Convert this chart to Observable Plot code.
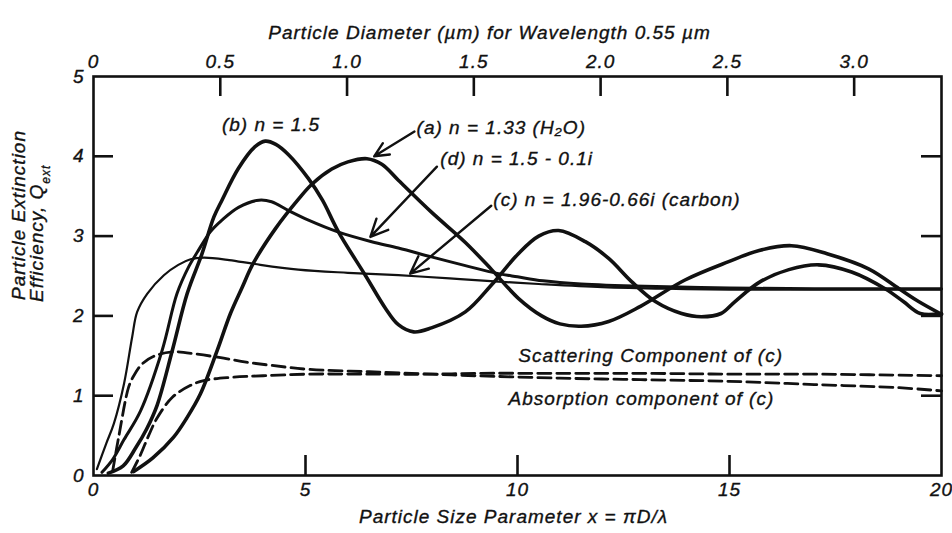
<!DOCTYPE html>
<html>
<head>
<meta charset="utf-8">
<script src="https://cdn.jsdelivr.net/npm/d3@7"></script>
<script src="https://cdn.jsdelivr.net/npm/@observablehq/plot@0.6"></script>
<style>
  html, body { margin: 0; padding: 0; background: #fff; }
  #chart svg { display: block; }
  #chart svg text { paint-order: stroke; stroke: #111; stroke-width: 0.35px; letter-spacing: 1px; }
</style>
</head>
<body>
<div id="chart"></div>
<script>
// ---- Data (x = size parameter, y = Q) ----
// (a) n = 1.33 (water)
const aX = [0.95,1.4,1.89,2.2,2.52,2.92,3.23,3.5,3.77,4.3,4.83,5.15,5.62,6.0,6.45,6.8,7.19,7.97,8.77,9.39,10.02,10.57,11.0,11.5,12.15,12.9,13.95,14.98,15.7,16.46,17.3,18.28,19.0,19.46,20];
const aY = [0.05,0.22,0.48,0.72,1.02,1.57,2.03,2.35,2.66,3.1,3.46,3.65,3.84,3.93,3.97,3.9,3.7,3.3,2.92,2.58,2.22,2.0,1.9,1.87,1.93,2.12,2.45,2.68,2.82,2.88,2.78,2.59,2.34,2.18,2.02];
// (b) n = 1.5
const bX = [0.35,0.7,1.0,1.25,1.5,1.86,2.21,2.56,2.84,3.03,3.42,3.81,4.05,4.3,4.6,5.07,5.4,5.78,6.41,6.88,7.19,7.55,7.97,8.77,9.39,10.02,10.5,10.97,11.6,12.15,12.69,13.25,13.87,14.34,14.8,15.13,15.7,16.4,17.1,17.88,18.67,19.1,19.5,20];
const bY = [0.03,0.12,0.35,0.58,0.88,1.57,2.28,2.78,3.24,3.45,3.85,4.12,4.19,4.15,4.02,3.72,3.45,3.05,2.51,2.1,1.89,1.8,1.85,2.05,2.39,2.78,3.0,3.07,2.93,2.72,2.43,2.18,2.03,1.99,2.03,2.18,2.42,2.58,2.64,2.55,2.34,2.18,2.03,2.03];
// (c) n = 1.96-0.66i (carbon)
const cX = [0.08,0.3,0.48,0.72,0.91,1.03,1.27,1.66,2.0,2.29,2.6,3.2,3.81,4.83,6.0,7.19,8.4,9.55,10.5,12.0,13.5,15,17.5,20];
const cY = [0.08,0.4,0.65,1.15,1.73,2.05,2.28,2.51,2.64,2.71,2.73,2.7,2.65,2.58,2.54,2.51,2.47,2.43,2.4,2.36,2.34,2.33,2.33,2.33];
// (d) n = 1.5 - 0.1i
const dX = [0.2,0.45,0.72,1.11,1.62,1.97,2.25,2.45,2.75,3.03,3.42,3.9,4.2,4.6,5.07,5.78,6.56,7.19,7.97,8.77,9.55,10.0,10.6,11.5,13,15,17,20];
const dY = [0.04,0.2,0.45,0.81,1.57,2.28,2.62,2.8,3.05,3.2,3.36,3.45,3.43,3.32,3.2,3.05,2.93,2.85,2.74,2.63,2.53,2.49,2.44,2.4,2.37,2.35,2.34,2.34];
// Absorption component of (c)
const absX = [0.45,0.6,0.83,0.95,1.15,1.45,1.9,2.45,3.07,3.6,4.2,5.07,6.5,8,9,11,13,15,17,19,20];
const absY = [0.05,0.5,1.11,1.25,1.4,1.5,1.55,1.52,1.47,1.42,1.38,1.33,1.3,1.27,1.25,1.22,1.2,1.18,1.14,1.1,1.06];
// Scattering component of (c)
const scaX = [0.9,1.1,1.3,1.5,1.86,2.29,2.6,3.23,4,5.07,6.5,8,9,11,13,15,17,20];
const scaY = [0.04,0.25,0.5,0.72,0.98,1.13,1.19,1.23,1.25,1.27,1.27,1.27,1.28,1.28,1.28,1.27,1.27,1.25];

// ---- Tick labels ----
const xTicks = [0, 5, 10, 15, 20];
const yTicks = [0, 1, 2, 3, 4, 5];
const diameterTicks = [0, 0.5, 1.0, 1.5, 2.0, 2.5, 3.0];
const xPerMicron = 5.98; // size-parameter units per micron of diameter, as drawn on the top scale

// ---- Annotations ----
const labelText = ["(b) n = 1.5", "(a) n = 1.33 (H\u2082O)", "(d) n = 1.5 - 0.1i", "(c) n = 1.96-0.66i (carbon)", "Scattering Component of (c)", "Absorption component of (c)"];
const labelX = [3.03, 7.62, 8.18, 9.43, 10.02, 9.79];
const labelY = [4.39, 4.35, 3.97, 3.45, 1.50, 0.96];
const arrowX1 = [7.57, 8.1, 9.38];
const arrowY1 = [4.31, 3.87, 3.38];
const arrowX2 = [6.62, 6.53, 7.47];
const arrowY2 = [4.0, 2.99, 2.53];

// ---- Build tables ----
const toRows = (xs, ys) => xs.map((x, i) => ({x, y: ys[i]}));
const curveA = toRows(aX, aY), curveB = toRows(bX, bY), curveC = toRows(cX, cY), curveD = toRows(dX, dY);
const curveAbs = toRows(absX, absY), curveSca = toRows(scaX, scaY);
const labels = labelText.map((t, i) => ({t, x: labelX[i], y: labelY[i]}));
const arrows = arrowX1.map((x1, i) => ({x1, y1: arrowY1[i], x2: arrowX2[i], y2: arrowY2[i]}));

const W = 952, H = 533;
const mL = 93, mR = 11, mT = 76, mB = 58;
const innerW = W - mL - mR, innerH = H - mT - mB;
const tickLen = 20;
const ink = "#111";
const font = "'Liberation Sans', Arial, sans-serif";

const fmtD = v => { const d = v / xPerMicron; return d === 0 ? "0" : d.toFixed(1); };

const chart = Plot.plot({
  width: W, height: H,
  marginLeft: mL, marginRight: mR, marginTop: mT, marginBottom: mB,
  x: {domain: [0, 20], label: null},
  y: {domain: [0, 5], label: null},
  style: {fontFamily: font, fontStyle: "italic", fontSize: "18px", color: ink, background: "#fff"},
  marks: [
    Plot.line(curveSca, {x: "x", y: "y", stroke: ink, strokeWidth: 2.8, strokeDasharray: "13,6", curve: "catmull-rom"}),
    Plot.line(curveAbs, {x: "x", y: "y", stroke: ink, strokeWidth: 2.8, strokeDasharray: "13,6", curve: "catmull-rom"}),
    Plot.line(curveC, {x: "x", y: "y", stroke: ink, strokeWidth: 2.2, curve: "catmull-rom"}),
    Plot.line(curveD, {x: "x", y: "y", stroke: ink, strokeWidth: 3.0, curve: "catmull-rom"}),
    Plot.line(curveA, {x: "x", y: "y", stroke: ink, strokeWidth: 3.6, curve: "catmull-rom"}),
    Plot.line(curveB, {x: "x", y: "y", stroke: ink, strokeWidth: 3.6, curve: "catmull-rom"}),
    Plot.frame({stroke: ink, strokeWidth: 2.6}),
    // inward tick marks
    Plot.tickY(yTicks.slice(1, 5), {y: d => d, stroke: ink, strokeWidth: 2.6, insetRight: innerW - tickLen}),
    Plot.tickY(yTicks.slice(1, 5), {y: d => d, stroke: ink, strokeWidth: 2.6, insetLeft: innerW - tickLen}),
    Plot.tickX(xTicks.slice(1, 4), {x: d => d, stroke: ink, strokeWidth: 2.6, insetTop: innerH - tickLen}),
    Plot.tickX(diameterTicks.slice(1).map(d => d * xPerMicron), {x: d => d, stroke: ink, strokeWidth: 2.6, insetBottom: innerH - tickLen}),
    // tick labels
    Plot.axisY(yTicks, {anchor: "left", tickSize: 0, tickPadding: 9, fontSize: 19, label: null, tickFormat: d => String(d)}),
    Plot.axisX(xTicks, {anchor: "bottom", tickSize: 0, tickPadding: 7, fontSize: 19, label: null, tickFormat: d => String(d)}),
    Plot.axisX(diameterTicks.map(d => d * xPerMicron), {anchor: "top", tickSize: 0, tickPadding: 9, fontSize: 19, label: null, tickFormat: fmtD}),
    // titles
    Plot.text(["Particle Diameter (\u00b5m) for Wavelength 0.55 \u00b5m"], {frameAnchor: "top", dx: -28, dy: -51, fontSize: 19, text: d => d}),
    Plot.text(["Particle Size Parameter x = \u03c0D/\u03bb"], {frameAnchor: "bottom", dx: -4, dy: 47, fontSize: 19, text: d => d}),
    Plot.text(["Particle Extinction"], {frameAnchor: "left", dx: -75, dy: 24, rotate: -90, fontSize: 19, text: d => d}),
    Plot.text(["Efficiency, Q"], {frameAnchor: "left", dx: -57, dy: 26, rotate: -90, fontSize: 19, text: d => d}),
    // annotations
    Plot.text(labels, {x: "x", y: "y", text: "t", textAnchor: "start", fontSize: 19}),
    Plot.arrow(arrows, {x1: "x1", y1: "y1", x2: "x2", y2: "y2", stroke: ink, strokeWidth: 2.4, headLength: 12, headAngle: 50})
  ]
});

document.getElementById("chart").appendChild(chart);

// subscript "ext" on Q
d3.select(chart).selectAll("text").each(function() {
  if (this.textContent === "Efficiency, Q") {
    d3.select(this).append("tspan").attr("baseline-shift", "sub").attr("font-size", "12").text("ext");
  }
});
</script>
</body>
</html>
